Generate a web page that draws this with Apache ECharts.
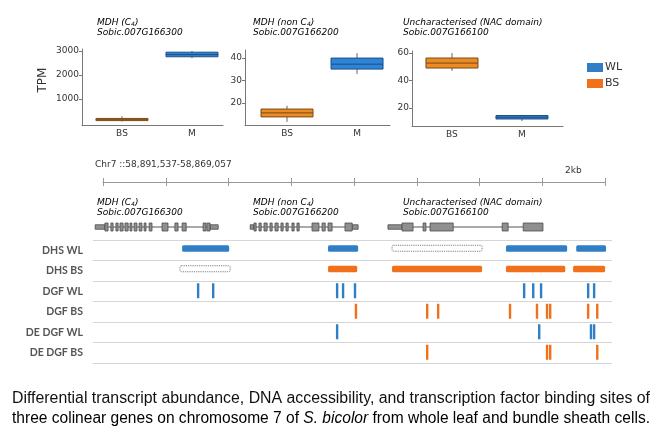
<!DOCTYPE html>
<html><head><meta charset="utf-8">
<script src="https://cdn.jsdelivr.net/npm/echarts@6/dist/echarts.min.js"></script>
<style>html,body{margin:0;padding:0;background:#fff}#c{width:667px;height:441px}</style>
</head><body><div id="c"></div>
<script>
// ---------- Expression panels (TPM): [min, q1, median, q3, max] ----------
const boxCategories = ['BS', 'M'];
const tpmC4 = [[60, 100, 140, 190, 280], [2700, 2760, 2850, 2950, 3000]];
const tpmNonC4 = [[11.6, 13.8, 15.6, 17.3, 18.8], [32.9, 35.1, 37.3, 40, 42.2]];
const tpmNac = [[47, 49.1, 52.7, 56.4, 60], [10.5, 12, 13.3, 14.5, 15]];
const ticksC4 = [1000, 2000, 3000];
const ticksNonC4 = [20, 30, 40];
const ticksNac = [20, 40, 60];

// ---------- Genome tracks (positions in kb from first ruler tick) ----------
const trackRows = ['DHS WL', 'DHS BS', 'DGF WL', 'DGF BS', 'DE DGF WL', 'DE DGF BS'];
const dhsWL = [[2.52, 4.02], [7.17, 8.13], [12.84, 14.79], [15.08, 16.03]];
const dhsWLUnchanged = [[9.21, 12.08]];
const dhsBS = [[7.17, 8.10], [9.21, 12.08], [12.84, 14.73], [14.98, 16.0]];
const dhsBSUnchanged = [[2.45, 4.05]];
const dgfWL = [3.03, 3.51, 7.46, 7.65, 8.03, 13.42, 13.71, 13.96, 15.46, 15.65];
const dgfBS = [8.06, 10.33, 10.68, 12.97, 13.83, 14.15, 14.25, 15.46, 15.75];
const deDgfWL = [7.46, 13.90, 15.55, 15.65];
const deDgfBS = [10.33, 14.15, 14.25, 15.75];

// ---------- Gene models (kb) ----------
const geneSpans = [[-0.25, 3.67], [4.69, 8.13], [9.08, 14.02]];
const geneUTRs = [[-0.25, 0.06], [3.41, 3.67], [4.69, 4.80], [7.94, 8.13], [9.08, 9.53]];
const geneExons = [
  [0.06, 0.16], [0.25, 0.32], [0.41, 0.48], [0.54, 0.64], [0.70, 0.80], [0.86, 0.92], [0.99, 1.08],
  [1.15, 1.24], [1.31, 1.37], [1.47, 1.56], [1.88, 2.07], [2.29, 2.39], [2.52, 2.65], [3.19, 3.28], [3.31, 3.41],
  [4.81, 4.88], [4.97, 5.04], [5.13, 5.23], [5.32, 5.39], [5.48, 5.58], [5.67, 5.74], [5.83, 5.90],
  [6.02, 6.09], [6.18, 6.25], [6.66, 6.88], [6.98, 7.08], [7.17, 7.30], [7.71, 7.94],
  [9.53, 9.88], [10.20, 10.29], [10.42, 11.16], [12.72, 12.91], [13.39, 14.02]
];
const rulerMax = 16, rulerStep = 2;

const captionLine1 = 'Differential transcript abundance, DNA accessibility, and transcription factor binding sites of';
const captionLine2a = 'three colinear genes on chromosome 7 of ';
const captionLine2b = 'S. bicolor';
const captionLine2c = ' from whole leaf and bundle sheath cells.';

// ---------- styling ----------
const BLUE = '#2f7ec6', ORANGE = '#f07119';
const BOX_BLUE = '#2d84d8', BOX_ORANGE = '#ea8b24';
const TXT = '#333';
const FONT = '"DejaVu Sans", sans-serif';

const chart = echarts.init(document.getElementById('c'), null, {renderer: 'canvas'});

function renderBox(params, api) {
  const c = api.value(0);
  const v = [1, 2, 3, 4, 5].map(i => api.value(i));
  const x = api.coord([c, v[2]])[0];
  const y = v.map(val => api.coord([c, val])[1]);
  const w = 52;
  const fill = c === 0 ? BOX_ORANGE : BOX_BLUE;
  const stroke = c === 0 ? '#7a4a1a' : '#1d4f80';
  return {type: 'group', children: [
    {type: 'line', shape: {x1: x, y1: y[0], x2: x, y2: y[4]}, style: {stroke: '#666', lineWidth: 1}},
    {type: 'rect', shape: {x: x - w / 2, y: y[3], width: w, height: Math.max(1.5, y[1] - y[3])},
      style: {fill: fill, stroke: stroke, lineWidth: 1}},
    {type: 'line', shape: {x1: x - w / 2, y1: y[2], x2: x + w / 2, y2: y[2]}, style: {stroke: stroke, lineWidth: 1}}
  ]};
}

function boxData(arr) { return arr.map((q, i) => [i].concat(q)); }

function renderTrack(params, api) {
  const s = api.value(0), e = api.value(1), row = api.value(2);
  const p0 = api.coord([s, row]), p1 = api.coord([e, row]);
  const color = api.visual('color');
  if (e > s) {
    return {type: 'rect', shape: {x: p0[0], y: p0[1] - 5, width: p1[0] - p0[0], height: 6.5, r: 1.5},
      style: {fill: color}};
  }
  return {type: 'rect', shape: {x: p0[0] - 1.2, y: p0[1] - 8, width: 2.4, height: 15}, style: {fill: color}};
}

function renderDashed(params, api) {
  const s = api.value(0), e = api.value(1), row = api.value(2);
  const p0 = api.coord([s, row]), p1 = api.coord([e, row]);
  return {type: 'rect', shape: {x: p0[0], y: p0[1] - 5, width: p1[0] - p0[0], height: 6, r: 1.5},
    style: {fill: 'none', stroke: '#808080', lineWidth: 1, lineDash: [1.2, 1]}};
}

function renderGene(params, api) {
  const s = api.value(0), e = api.value(1), kind = api.value(2);
  const p0 = api.coord([s, 0]), p1 = api.coord([e, 0]);
  if (kind === 0) {
    return {type: 'line', shape: {x1: p0[0], y1: p0[1], x2: p1[0], y2: p1[1]}, style: {stroke: '#555', lineWidth: 1}};
  }
  const h = kind === 1 ? 4.5 : 8;
  return {type: 'rect', shape: {x: p0[0], y: p0[1] - h / 2, width: Math.max(1.5, p1[0] - p0[0]), height: h},
    style: {fill: '#8f8f8f', stroke: '#4d4d4d', lineWidth: 0.8}};
}

const trackWL = [], trackBS = [], trackDashed = [];
dhsWL.forEach(d => trackWL.push([d[0], d[1], 0]));
dgfWL.forEach(p => trackWL.push([p, p, 2]));
deDgfWL.forEach(p => trackWL.push([p, p, 4]));
dhsBS.forEach(d => trackBS.push([d[0], d[1], 1]));
dgfBS.forEach(p => trackBS.push([p, p, 3]));
deDgfBS.forEach(p => trackBS.push([p, p, 5]));
dhsWLUnchanged.forEach(d => trackDashed.push([d[0], d[1], 0]));
dhsBSUnchanged.forEach(d => trackDashed.push([d[0], d[1], 1]));

const geneData = [];
geneSpans.forEach(d => geneData.push([d[0], d[1], 0]));
geneUTRs.forEach(d => geneData.push([d[0], d[1], 1]));
geneExons.forEach(d => geneData.push([d[0], d[1], 2]));

const panelGrids = [
  {left: 82, top: 49, width: 141, height: 76},
  {left: 245, top: 50, width: 145, height: 75},
  {left: 412, top: 51, width: 151, height: 75}
];
const panelX = [[-0.571, 1.443], [-0.6, 1.471], [-0.571, 1.586]];
const panelY = [[-83, 3083], [10.2, 43.6], [6.9, 61.5]];
const panelTicks = [ticksC4, ticksNonC4, ticksNac];
const panelData = [tpmC4, tpmNonC4, tpmNac];

const grids = panelGrids.slice();
grids.push({left: 93, top: 240, width: 519, height: 123});   // 3 tracks
grids.push({left: 93, top: 222, width: 519, height: 10});    // 4 genes
grids.push({left: 103, top: 182, width: 502, height: 10});   // 5 ruler

const xAxes = [], yAxes = [];
for (let i = 0; i < 3; i++) {
  xAxes.push({gridIndex: i, type: 'value', min: panelX[i][0], max: panelX[i][1],
    axisLine: {show: true, onZero: false, lineStyle: {color: '#777', width: 1}}, axisTick: {show: false}, splitLine: {show: false},
    axisLabel: {customValues: [0, 1], formatter: v => boxCategories[Math.round(v)], fontSize: 9, color: TXT, margin: 4, fontFamily: FONT}});
  yAxes.push({gridIndex: i, type: 'value', min: panelY[i][0], max: panelY[i][1],
    axisLine: {show: true, onZero: false, lineStyle: {color: '#777', width: 1}},
    axisTick: {show: true, customValues: panelTicks[i], length: 3, lineStyle: {color: '#777'}},
    axisLabel: {customValues: panelTicks[i], formatter: v => String(v), fontSize: 9, color: TXT, margin: 3, fontFamily: FONT},
    splitLine: {show: false}});
}
xAxes.push({gridIndex: 3, type: 'value', min: -0.32, max: 16.22, show: false});
yAxes.push({gridIndex: 3, type: 'category', data: trackRows, inverse: true,
  axisLine: {show: false}, axisTick: {show: false},
  splitLine: {show: true, lineStyle: {color: '#d6d6d6', width: 1}},
  axisLabel: {fontSize: 10.5, fontWeight: 'bold', color: '#555', fontFamily: 'Lato, "Open Sans", sans-serif', margin: 10}});
xAxes.push({gridIndex: 4, type: 'value', min: -0.32, max: 16.22, show: false});
yAxes.push({gridIndex: 4, type: 'value', min: -1, max: 1, show: false});
xAxes.push({gridIndex: 5, type: 'value', min: 0, max: rulerMax, interval: rulerStep, position: 'top',
  axisLine: {show: true, onZero: false, lineStyle: {color: '#999'}}, axisTick: {show: true, length: 4, lineStyle: {color: '#999'}},
  axisLabel: {show: false}, splitLine: {show: false}});
xAxes.push({gridIndex: 5, type: 'value', min: 0, max: rulerMax, interval: rulerStep, position: 'top', offset: 0,
  axisLine: {show: false, onZero: false}, axisTick: {show: true, inside: true, length: 4, lineStyle: {color: '#999'}},
  axisLabel: {show: false}, splitLine: {show: false}});
yAxes.push({gridIndex: 5, type: 'value', show: false});

const series = [];
for (let i = 0; i < 3; i++) {
  series.push({type: 'custom', name: 'box' + i, xAxisIndex: i, yAxisIndex: i, renderItem: renderBox,
    encode: {x: 0, y: [1, 2, 3, 4, 5]}, data: boxData(panelData[i]), silent: true});
}
series.push({type: 'custom', name: 'WL', xAxisIndex: 3, yAxisIndex: 3, renderItem: renderTrack,
  itemStyle: {color: BLUE}, encode: {x: [0, 1], y: 2}, data: trackWL});
series.push({type: 'custom', name: 'BS', xAxisIndex: 3, yAxisIndex: 3, renderItem: renderTrack,
  itemStyle: {color: ORANGE}, encode: {x: [0, 1], y: 2}, data: trackBS});
series.push({type: 'custom', name: 'unchanged', xAxisIndex: 3, yAxisIndex: 3, renderItem: renderDashed,
  encode: {x: [0, 1], y: 2}, data: trackDashed});
series.push({type: 'custom', name: 'genes', xAxisIndex: 4, yAxisIndex: 4, renderItem: renderGene,
  encode: {x: [0, 1]}, data: geneData, clip: false});

// caption sizing
const CAP_FONT_FAMILY = '"Liberation Sans Narrow", "Liberation Sans", Arial, sans-serif';
const CAP_SIZE = 16;
const mctx = document.createElement('canvas').getContext('2d');
function tw(t, italic) { mctx.font = (italic ? 'italic ' : '') + CAP_SIZE + 'px ' + CAP_FONT_FAMILY; return mctx.measureText(t).width; }
const capWidth = 638;
const sc1 = capWidth / tw(captionLine1);
const sc2 = capWidth / (tw(captionLine2a) + tw(captionLine2b, true) + tw(captionLine2c));

const titleStyle = {fontFamily: FONT, fontStyle: 'italic', fontSize: 9, color: '#444', lineHeight: 10.5};
const subStyle = {fontFamily: FONT, fontStyle: 'italic', fontSize: 6, color: '#444', lineHeight: 10.5, verticalAlign: 'bottom', padding: [3, 0, 0, 0]};
function titleText(x, y, line1Parts, line2) {
  return {type: 'text', x: x, y: y, silent: true, style: {
    text: line1Parts + '\n{i|' + line2 + '}', rich: {i: titleStyle, s: subStyle}}};
}

const graphics = [
  titleText(97, 17, '{i|MDH (C}{s|4}{i|)}', 'Sobic.007G166300'),
  titleText(253, 17, '{i|MDH (non C}{s|4}{i|)}', 'Sobic.007G166200'),
  titleText(403, 17, '{i|Uncharacterised (NAC domain)}', 'Sobic.007G166100'),
  titleText(97, 197, '{i|MDH (C}{s|4}{i|)}', 'Sobic.007G166300'),
  titleText(253, 197, '{i|MDH (non C}{s|4}{i|)}', 'Sobic.007G166200'),
  titleText(403, 197, '{i|Uncharacterised (NAC domain)}', 'Sobic.007G166100'),
  {type: 'text', x: 43, y: 80, rotation: Math.PI / 2, silent: true,
    style: {text: 'TPM', fontFamily: FONT, fontSize: 12, fill: TXT, align: 'center', verticalAlign: 'middle'}},
  {type: 'text', x: 95, y: 165, silent: true,
    style: {text: 'Chr7 ::58,891,537-58,869,057', fontFamily: FONT, fontSize: 9, fill: TXT, verticalAlign: 'middle'}},
  {type: 'text', x: 565, y: 171, silent: true,
    style: {text: '2kb', fontFamily: FONT, fontSize: 9, fill: TXT, verticalAlign: 'middle'}},
  {type: 'text', x: 12, y: 399, scaleX: sc1, silent: true,
    style: {text: captionLine1, fontFamily: CAP_FONT_FAMILY, fontSize: CAP_SIZE, fill: '#111', verticalAlign: 'middle'}},
  {type: 'text', x: 12, y: 419, scaleX: sc2, silent: true,
    style: {text: '{n|' + captionLine2a + '}{it|' + captionLine2b + '}{n|' + captionLine2c + '}',
      verticalAlign: 'middle',
      rich: {n: {fontFamily: CAP_FONT_FAMILY, fontSize: CAP_SIZE, color: '#111'},
             it: {fontFamily: CAP_FONT_FAMILY, fontSize: CAP_SIZE, fontStyle: 'italic', color: '#111'}}}}
];

chart.setOption({
  backgroundColor: '#fff',
  animation: false,
  grid: grids,
  xAxis: xAxes,
  yAxis: yAxes,
  legend: {data: ['WL', 'BS'], orient: 'vertical', left: 587, top: 62, itemWidth: 16, itemHeight: 9, itemGap: 5,
    icon: 'rect', padding: 0, selectedMode: false,
    textStyle: {fontSize: 11, color: TXT, fontFamily: FONT, padding: [0, 0, 0, -3]}},
  series: series,
  graphic: graphics
});
</script></body></html>
